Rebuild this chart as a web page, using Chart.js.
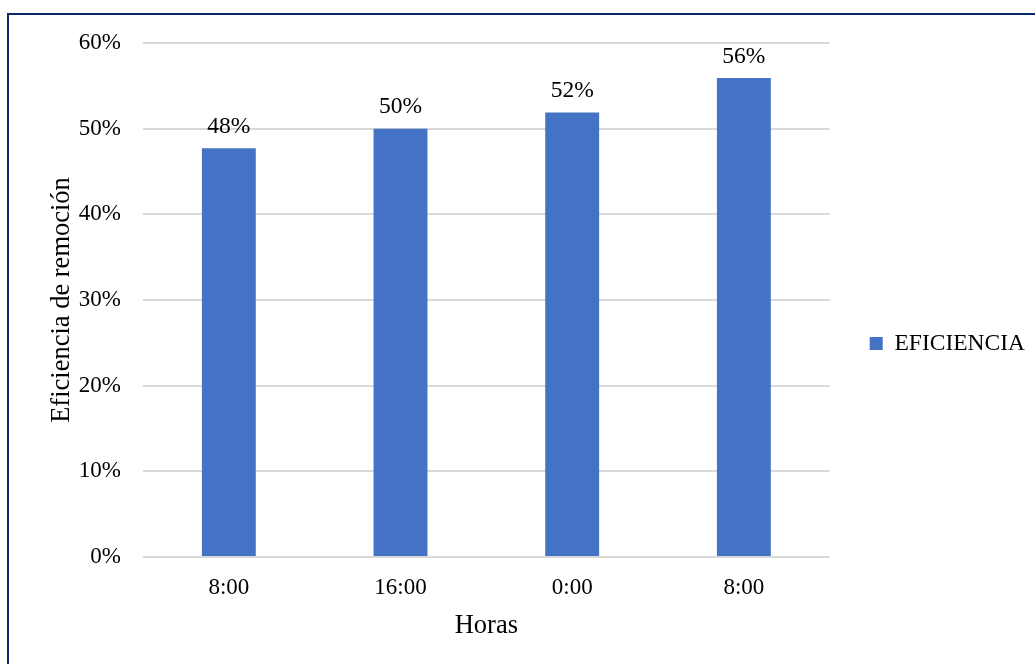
<!DOCTYPE html>
<html>
<head>
<meta charset="utf-8">
<script src="https://cdn.jsdelivr.net/npm/chart.js@4/dist/chart.umd.min.js"></script>
<style>
  html, body { margin: 0; padding: 0; background: #fff; }
  #wrap { position: relative; width: 1035px; height: 664px; overflow: hidden; }
  #frame { position: absolute; left: 7px; top: 13px; right: -10px; bottom: -10px;
           border-top: 2px solid #0b2a6b; border-left: 2px solid #0b2a6b; }
  canvas { position: absolute; left: 0; top: 0; }
</style>
</head>
<body>
<div id="wrap">
  <div id="frame"></div>
  <canvas id="chart" width="1035" height="664"></canvas>
</div>
<script>
// Datos del gráfico
const horas = ['8:00', '16:00', '0:00', '8:00'];
const eficiencia = [0.477, 0.500, 0.519, 0.559];
const yTicks = [0, 0.1, 0.2, 0.3, 0.4, 0.5, 0.6];

const FONT = '"Liberation Serif", "Times New Roman", serif';

// Etiquetas de valor encima de cada barra
const barLabels = {
    id: 'barLabels',
    afterDatasetsDraw(chart) {
        const ctx = chart.ctx;
        const meta = chart.getDatasetMeta(0);
        ctx.save();
        ctx.font = '23.5px ' + FONT;
        ctx.fillStyle = '#000';
        ctx.textAlign = 'center';
        ctx.textBaseline = 'bottom';
        meta.data.forEach((bar, i) => {
            const v = chart.data.datasets[0].data[i];
            ctx.fillText(Math.round(v * 100) + '%', bar.x, bar.y - 10);
        });
        ctx.restore();
    }
};

// sube un poco la leyenda (queda centrada más arriba en el original)
const legendShift = {
    id: 'legendShift',
    afterLayout(chart) {
        if (chart.legend) chart.legend.top -= 20;
    }
};

new Chart(document.getElementById('chart'), {
    type: 'bar',
    data: {
        labels: horas,
        datasets: [{
            label: 'EFICIENCIA',
            data: eficiencia,
            backgroundColor: '#4472C4',
            borderWidth: 0,
            categoryPercentage: 1,
            barPercentage: 0.314
        }]
    },
    options: {
        responsive: false,
        animation: false,
        devicePixelRatio: 1,
        layout: { padding: { top: 43, left: 0, right: 0, bottom: 0 } },
        plugins: {
            legend: {
                position: 'right',
                labels: {
                    font: { family: FONT, size: 23.5 },
                    color: '#000',
                    boxWidth: 13,
                    boxHeight: 13,
                    padding: 40
                }
            },
            tooltip: { enabled: false }
        },
        scales: {
            x: {
                grid: { display: false, drawTicks: false },
                border: { display: false },
                ticks: {
                    font: { family: FONT, size: 23 },
                    color: '#000',
                    padding: 17
                },
                title: {
                    display: true,
                    text: 'Horas',
                    font: { family: FONT, size: 26.5 },
                    color: '#000',
                    padding: { top: 0, bottom: 22 }
                },
                afterFit(scale) { scale.height = 107; }
            },
            y: {
                min: 0,
                max: 0.6,
                afterBuildTicks(scale) { scale.ticks = yTicks.map(v => ({ value: v })); },
                grid: { color: '#d9d9d9', lineWidth: 2, drawTicks: false },
                border: { display: false },
                ticks: {
                    font: { family: FONT, size: 23 },
                    color: '#000',
                    padding: 22,
                    callback: v => Math.round(v * 100) + '%'
                },
                title: {
                    display: true,
                    text: 'Eficiencia de remoción',
                    font: { family: FONT, size: 26.5 },
                    color: '#000',
                    padding: { top: 46, bottom: 0 }
                },
                afterFit(scale) { scale.width = 143; }
            }
        }
    },
    plugins: [barLabels, legendShift]
});
</script>
</body>
</html>
